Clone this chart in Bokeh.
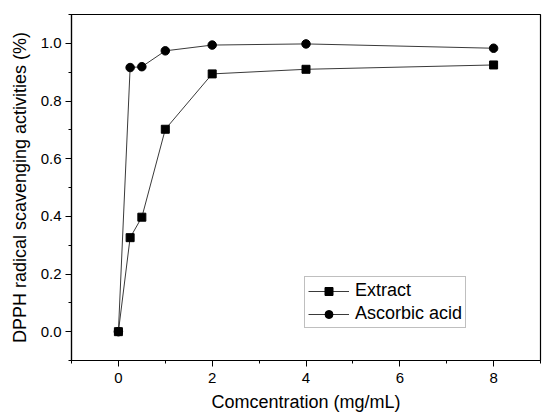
from bokeh.plotting import figure
from bokeh.models import Range1d, FixedTicker, Legend, LegendItem, CustomJSTickFormatter
from bokeh.embed import file_html
from bokeh.resources import INLINE

conc = [0, 0.25, 0.5, 1, 2, 4, 8]
extract = [0.0, 0.326, 0.397, 0.702, 0.894, 0.910, 0.925]
ascorbic = [0.0, 0.916, 0.919, 0.974, 0.994, 0.998, 0.983]
x_ticks = [0, 2, 4, 6, 8]
y_ticks = [0.0, 0.2, 0.4, 0.6, 0.8, 1.0]

FONT = "Liberation Sans"

p = figure(frame_width=469, frame_height=346, output_backend="svg",
           toolbar_location=None, x_range=Range1d(-1, 9), y_range=Range1d(-0.1, 1.1),
           min_border_left=71, min_border_right=7, min_border_top=14, min_border_bottom=57)
p.background_fill_color = "white"
p.border_fill_color = "white"
p.outline_line_color = "black"
p.outline_line_width = 1.2
p.xgrid.visible = False
p.ygrid.visible = False

for ax in (p.xaxis[0], p.yaxis[0]):
    ax.axis_line_color = "black"
    ax.axis_line_width = 1.2
    ax.major_tick_in = 0
    ax.major_tick_out = 6
    ax.minor_tick_in = 0
    ax.minor_tick_out = 3
    ax.major_tick_line_color = "black"
    ax.minor_tick_line_color = "black"
    ax.major_label_text_font = FONT
    ax.major_label_text_font_size = "15px"
    ax.major_label_text_color = "black"
    ax.axis_label_text_font = FONT
    ax.axis_label_text_font_size = "18px"
    ax.axis_label_text_font_style = "normal"
    ax.axis_label_text_color = "black"

p.xaxis[0].ticker = FixedTicker(ticks=x_ticks, minor_ticks=[-1, 1, 3, 5, 7, 9])
p.yaxis[0].ticker = FixedTicker(ticks=y_ticks, minor_ticks=[-0.1, 0.1, 0.3, 0.5, 0.7, 0.9, 1.1])
p.yaxis[0].formatter = CustomJSTickFormatter(code="return tick.toFixed(1);")
p.xaxis[0].major_label_standoff = 6
p.yaxis[0].major_label_standoff = 4
p.xaxis[0].axis_label = "Comcentration (mg/mL)"
p.yaxis[0].axis_label = "DPPH radical scavenging activities (%)"
p.xaxis[0].axis_label_standoff = 6
p.yaxis[0].axis_label_standoff = 8

l1 = p.line(conc, extract, line_color="#3a3a3a", line_width=1)
s1 = p.scatter(conc, extract, marker="square", size=8, fill_color="black", line_color="black")
l2 = p.line(conc, ascorbic, line_color="#3a3a3a", line_width=1)
s2 = p.scatter(conc, ascorbic, marker="circle", size=8.5, fill_color="black", line_color="black")

legend = Legend(items=[LegendItem(label="Extract", renderers=[l1, s1]),
                       LegendItem(label="Ascorbic acid", renderers=[l2, s2])],
                location=(233, 32))
legend.border_line_color = "#808080"
legend.border_line_width = 1
legend.background_fill_alpha = 1
legend.label_text_font = FONT
legend.label_text_font_size = "18px"
legend.label_text_color = "black"
legend.glyph_width = 41
legend.glyph_height = 20
legend.label_height = 20
legend.label_standoff = 6
legend.spacing = 2
legend.margin = 0
legend.padding = 3
p.add_layout(legend, "center")

open("out.html", "w").write(file_html(p, INLINE))
